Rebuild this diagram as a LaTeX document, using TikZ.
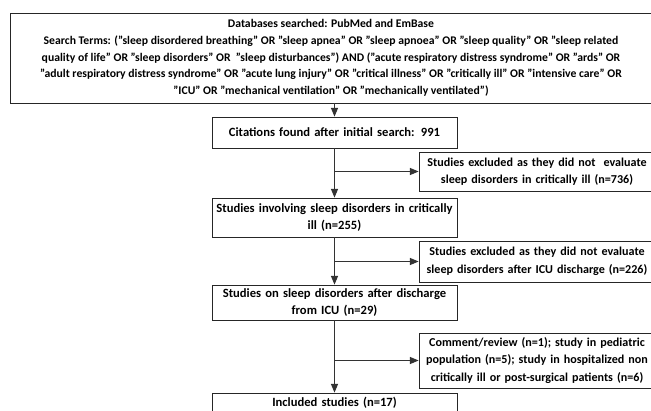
\documentclass[tikz,border=0pt]{standalone}
\usepackage{fontspec}
\setmainfont{Carlito}
\usetikzlibrary{arrows}

\begin{document}
\begin{tikzpicture}[x=1pt,y=-1pt,>=triangle 45]
            \tikzstyle{every node} = [draw=black!85,line width=0.9pt,align=center,inner sep=0pt,font=\bfseries\fontsize{12.6}{17}\selectfont];
            \tikzstyle{mainbox} = [minimum width=245,text width=243];
            \tikzstyle{exclbox} = [minimum width=236,text width=234,font=\bfseries\fontsize{12.1}{17.5}\selectfont];
            \useasboundingbox (0,0) rectangle (651,410);
            \clip (0,0) rectangle (651,410);
            \node[minimum width=642,minimum height=90,font=\bfseries\fontsize{11.7}{16.8}\selectfont] (db) at (331,58) {Databases searched: PubMed and EmBase\\
Search Terms: ("sleep disordered breathing" OR "sleep apnea" OR "sleep apnoea" OR "sleep quality" OR "sleep related\\
quality of life" OR "sleep disorders" OR \ "sleep disturbances") AND ("acute respiratory distress syndrome" OR "ards" OR\\
"adult respiratory distress syndrome" OR "acute lung injury" OR "critical illness" OR "critically ill" OR "intensive care" OR\\
"ICU" OR "mechanical ventilation" OR "mechanically ventilated")};
            \node[mainbox,minimum height=31] (cit) at (334.5,132.5) {Citations found after initial search: 991};
            \node[exclbox,minimum height=39] (ex1) at (537,171.5) {Studies excluded as they did not \ evaluate\\ sleep disorders in critically ill (n=736)};
            \node[mainbox,minimum height=39] (inv) at (334.5,217.5) {Studies involving sleep disorders in critically\\ ill (n=255)};
            \node[exclbox,minimum height=41] (ex2) at (537,261.5) {Studies excluded as they did not evaluate\\ sleep disorders after ICU discharge (n=226)};
            \node[mainbox,minimum height=35] (dis) at (334.5,302.5) {Studies on sleep disorders after discharge\\ from ICU (n=29)};
            \node[exclbox,minimum height=55] (cmt) at (537,360.5) {Comment/review (n=1); study in pediatric\\ population (n=5); study in hospitalized non\\ critically ill or post-surgical patients (n=6)};
            \node[mainbox,minimum height=19] (inc) at (334.5,402.5) {Included studies (n=17)};
            \draw[->,draw=black!80,line width=1pt] (db.south -| cit) -- (cit);
            \draw[->,draw=black!80,line width=1pt] (cit) -- (inv);
            \draw[->,draw=black!80,line width=1pt] (inv) -- (dis);
            \draw[->,draw=black!80,line width=1pt] (dis) -- (inc);
            \draw[->,draw=black!80,line width=1pt] (cit.south |- ex1.west) -- (ex1.west);
            \draw[->,draw=black!80,line width=1pt] (inv.south |- ex2.west) -- (ex2.west);
            \draw[->,draw=black!80,line width=1pt] (dis.south |- cmt.west) -- (cmt.west);
        \end{tikzpicture}
\end{document}
